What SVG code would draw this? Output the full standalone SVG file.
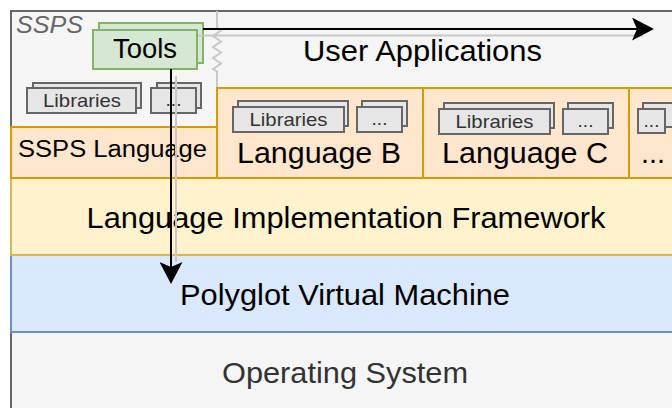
<svg xmlns="http://www.w3.org/2000/svg" width="672" height="408" viewBox="0 0 672 408">
<style>
text{font-family:"Liberation Sans",Arial,sans-serif}
.big{font-size:29px;fill:#000;text-anchor:middle}
.lib{fill:#e6e6e6;stroke:#666;stroke-width:2}
.libt{font-size:19px;fill:#333;text-anchor:middle}
.lang{fill:#ffe6cc;stroke:#d79b00;stroke-width:2}
.tool{fill:#d5e8d4;stroke:#82b366;stroke-width:2}
.conn{stroke:#000;stroke-width:2;fill:none}
.shadow{stroke:#c8c8c8;stroke-width:2;fill:none}
</style>
<defs>
<marker id="arr" viewBox="0 0 22 23" refX="5" refY="11.5" markerWidth="22" markerHeight="23" markerUnits="userSpaceOnUse" orient="auto">
<path d="M0,0 L22,11.5 L0,23 L5,11.5 Z" fill="#000"/>
</marker>
</defs>
<g id="container">
<rect x="11" y="11" width="700" height="420" fill="#f5f5f5" stroke="#666" stroke-width="2"/>
<text x="16" y="33" font-size="23" font-style="italic" fill="#666" textLength="67" lengthAdjust="spacingAndGlyphs">SSPS</text>
<path d="M217,11 V28 L221,30.5 L213,36 L221,41.5 L213,47 L221,52.5 L213,58 L221,63.5 L213,69 L217,71.5 V88" fill="none" stroke="#c8c8c8" stroke-width="2"/>
<text class="big" x="422.5" y="61" textLength="239" lengthAdjust="spacingAndGlyphs">User Applications</text>
</g>
<g id="os">
<rect x="11" y="332" width="700" height="100" fill="#f5f5f5" stroke="#666" stroke-width="2"/>
<text class="big" x="345" y="383" fill="#333" style="fill:#333" textLength="246" lengthAdjust="spacingAndGlyphs">Operating System</text>
</g>
<g id="pvm">
<rect x="11" y="255" width="700" height="77" fill="#dae8fc" stroke="#6c8ebf" stroke-width="2"/>
<text class="big" x="345" y="305" textLength="330" lengthAdjust="spacingAndGlyphs">Polyglot Virtual Machine</text>
</g>
<g id="lif">
<rect x="11" y="178" width="700" height="77" fill="#fff2cc" stroke="#d6b656" stroke-width="2"/>
<text class="big" x="346" y="228" textLength="519" lengthAdjust="spacingAndGlyphs">Language Implementation Framework</text>
</g>
<g id="ssps-language">
<rect class="lang" x="11" y="127" width="206" height="51"/>
<text x="112.5" y="157" font-size="23" text-anchor="middle" fill="#000" textLength="189" lengthAdjust="spacingAndGlyphs">SSPS Language</text>
</g>
<g id="language-b">
<rect class="lang" x="217" y="88" width="206" height="90"/>
<text class="big" x="319" y="163" textLength="164" lengthAdjust="spacingAndGlyphs">Language B</text>
</g>
<g id="language-c">
<rect class="lang" x="423" y="88" width="206" height="90"/>
<text class="big" x="525" y="163" textLength="166" lengthAdjust="spacingAndGlyphs">Language C</text>
</g>
<g id="language-more">
<rect class="lang" x="629" y="88" width="80" height="90"/>
<text x="641" y="163" font-size="29" fill="#000">...</text>
</g>
<g id="ssps-libraries">
<rect class="lib" x="33" y="83" width="108" height="25"/>
<rect class="lib" x="27" y="88" width="109" height="25"/>
<text class="libt" x="82" y="107" textLength="78" lengthAdjust="spacingAndGlyphs">Libraries</text>
</g>
<g id="ssps-more">
<rect class="lib" x="157" y="83" width="44" height="25"/>
<rect class="lib" x="151" y="88" width="45" height="25"/>
<text class="libt" x="173.5" y="106">...</text>
</g>
<g id="b-libraries">
<rect class="lib" x="238" y="101" width="110" height="25"/>
<rect class="lib" x="233" y="107" width="111" height="25"/>
<text class="libt" x="288.5" y="126" textLength="78" lengthAdjust="spacingAndGlyphs">Libraries</text>
</g>
<g id="b-more">
<rect class="lib" x="362" y="101" width="45" height="25"/>
<rect class="lib" x="357" y="107" width="45" height="25"/>
<text class="libt" x="379.5" y="125">...</text>
</g>
<g id="c-libraries">
<rect class="lib" x="444" y="103" width="110" height="25"/>
<rect class="lib" x="439" y="109" width="111" height="25"/>
<text class="libt" x="494.5" y="128" textLength="78" lengthAdjust="spacingAndGlyphs">Libraries</text>
</g>
<g id="c-more">
<rect class="lib" x="568" y="103" width="45" height="25"/>
<rect class="lib" x="563" y="109" width="45" height="25"/>
<text class="libt" x="585.5" y="127">...</text>
</g>
<g id="last-more">
<rect class="lib" x="643" y="103" width="45" height="24"/>
<rect class="lib" x="638" y="109" width="27" height="24"/>
<text class="libt" x="651.5" y="127">...</text>
</g>
<g id="tools">
<rect class="tool" x="99" y="23" width="104" height="40"/>
<rect class="tool" x="93" y="30" width="104" height="39"/>
<text x="145" y="58" font-size="27" text-anchor="middle" fill="#000" textLength="64" lengthAdjust="spacingAndGlyphs">Tools</text>
</g>
<g id="connectors">
<path class="shadow" d="M198,35.5 H643"/>
<path class="shadow" d="M176,76 V262"/>
<path class="conn" d="M203,29 H637" marker-end="url(#arr)"/>
<path class="conn" d="M171,69 V267" marker-end="url(#arr)"/>
</g>
</svg>
